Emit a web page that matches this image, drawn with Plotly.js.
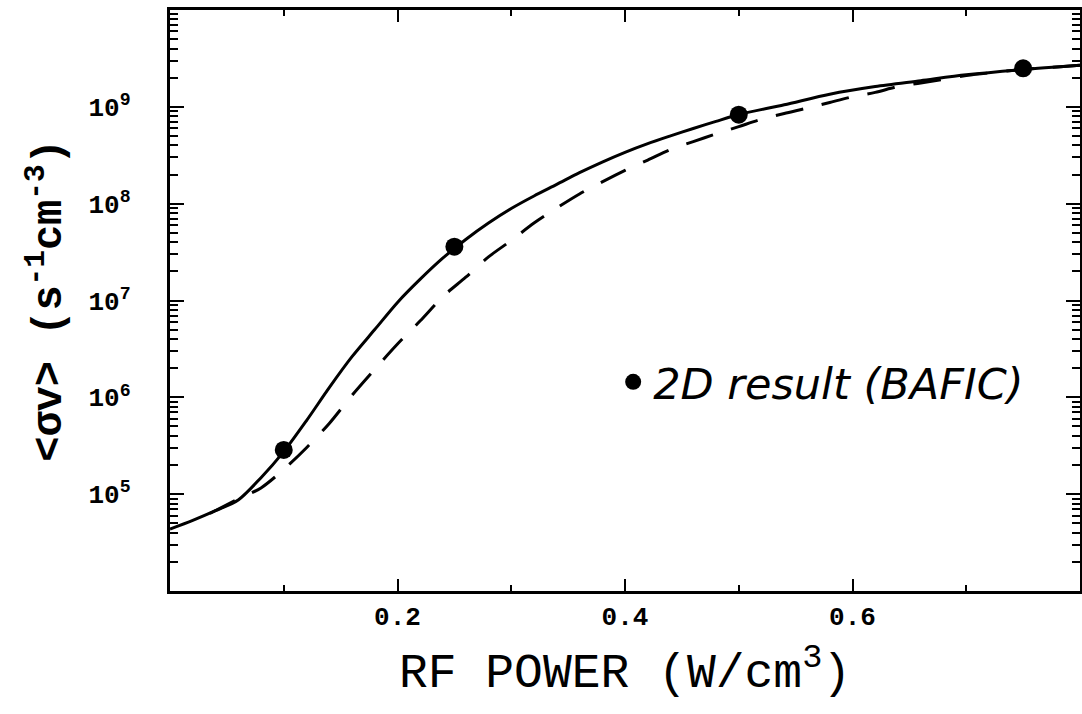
<!DOCTYPE html>
<html>
<head>
<meta charset="utf-8">
<script src="https://cdn.plot.ly/plotly-3.0.1.min.js"></script>
<style>html,body{margin:0;padding:0;background:#fff;}#chart{width:1082px;height:714px;}</style>
</head>
<body>
<div id="chart"></div>
<script>
// RF power (W/cm^3)
var solidX = [0, 0.02, 0.04, 0.06, 0.08, 0.10, 0.12, 0.14, 0.16, 0.18, 0.20, 0.22, 0.24, 0.26, 0.28, 0.30, 0.32, 0.34, 0.36, 0.38, 0.40, 0.42, 0.44, 0.46, 0.48, 0.50, 0.54, 0.58, 0.62, 0.66, 0.70, 0.75, 0.80];
var solidY = [4.37e4, 5.37e4, 6.76e4, 8.71e4, 1.48e5, 2.75e5, 5.75e5, 1.26e6, 2.63e6, 5.01e6, 9.55e6, 1.66e7, 2.75e7, 4.27e7, 6.31e7, 8.91e7, 1.20e8, 1.58e8, 2.09e8, 2.69e8, 3.39e8, 4.17e8, 5.01e8, 5.98e8, 7.08e8, 8.32e8, 1.05e9, 1.35e9, 1.62e9, 1.86e9, 2.14e9, 2.43e9, 2.69e9];

var dashX = [0.035, 0.06, 0.08, 0.10, 0.12, 0.14, 0.16, 0.18, 0.20, 0.22, 0.24, 0.26, 0.28, 0.30, 0.32, 0.34, 0.36, 0.38, 0.40, 0.42, 0.44, 0.46, 0.48, 0.50, 0.52, 0.54, 0.56, 0.58, 0.60, 0.62, 0.64, 0.66, 0.70, 0.75, 0.80];
var dashY = [6.31e4, 8.91e4, 1.16e5, 1.80e5, 3.02e5, 5.37e5, 1.05e6, 1.95e6, 3.55e6, 6.17e6, 1.10e7, 1.74e7, 2.82e7, 4.17e7, 6.31e7, 9.02e7, 1.26e8, 1.68e8, 2.21e8, 2.82e8, 3.63e8, 4.37e8, 5.25e8, 6.25e8, 7.45e8, 8.55e8, 9.68e8, 1.11e9, 1.27e9, 1.41e9, 1.62e9, 1.76e9, 2.10e9, 2.43e9, 2.69e9];

// 2D result (BAFIC)
var bafX = [0.10, 0.25, 0.50, 0.75];
var bafY = [2.86e5, 3.6e7, 8.3e8, 2.5e9];

var xTickVals = [0.2, 0.4, 0.6];
var xTickText = ["0.2", "0.4", "0.6"];
var yTickVals = [1e5, 1e6, 1e7, 1e8, 1e9];
var yTickText = ["10<sup>5</sup>", "10<sup>6</sup>", "10<sup>7</sup>", "10<sup>8</sup>", "10<sup>9</sup>"];

var PAD = '\u00a0\u00a0';
var traces = [
  {x: solidX, y: solidY, mode: 'lines', line: {color: 'black', width: 3, shape: 'spline', smoothing: 0.8}, showlegend: false, hoverinfo: 'skip'},
  {x: dashX, y: dashY, mode: 'lines', line: {color: 'black', width: 3, dash: '28px,19px', shape: 'spline', smoothing: 0.8}, showlegend: false, hoverinfo: 'skip'},
  {x: bafX, y: bafY, mode: 'markers', name: '2D result (BAFIC)', marker: {color: 'black', size: 18}, showlegend: true}
];

var MONO = "'Liberation Mono', 'DejaVu Sans Mono', monospace";
var tickFont = {family: MONO, size: 26, color: 'black', weight: 'bold'};

var layout = {
  width: 1082, height: 714,
  margin: {l: 170, r: 2, t: 10, b: 123},
  paper_bgcolor: 'white', plot_bgcolor: 'white',
  showlegend: true,
  legend: {x: 0.487, y: 0.36, xanchor: 'left', yanchor: 'middle', bgcolor: 'rgba(0,0,0,0)',
           font: {family: "'DejaVu Sans', sans-serif", size: 43, style: 'italic', color: 'black'},
           itemsizing: 'trace'},
  xaxis: {
    range: [0, 0.8], showgrid: false, zeroline: false,
    showline: true, linecolor: 'black', linewidth: 3, mirror: 'ticks',
    ticks: 'inside', ticklen: 12, tickwidth: 2, tickcolor: 'black',
    tickmode: 'array', tickvals: xTickVals, ticktext: xTickText,
    tickfont: tickFont,
    minor: {ticks: 'inside', ticklen: 6, tickwidth: 2, tickcolor: 'black', tick0: 0, dtick: 0.1, showgrid: false},
    title: {text: 'RF POWER (W/cm<sup>3</sup>)', font: {family: MONO, size: 48, color: 'black'}, standoff: 22}
  },
  yaxis: {
    type: 'log', range: [4, 10], showgrid: false, zeroline: false,
    showline: true, linecolor: 'black', linewidth: 3, mirror: 'ticks',
    ticks: 'inside', ticklen: 14, tickwidth: 2, tickcolor: 'black',
    tickmode: 'array', tickvals: yTickVals, ticktext: yTickText.map(function(t){return t + PAD;}),
    tickfont: tickFont,
    minor: {ticks: 'inside', ticklen: 8, tickwidth: 2, tickcolor: 'black', dtick: 'D1', showgrid: false},
    title: {text: '&lt;σv&gt; (s<sup>-1</sup>cm<sup>-3</sup>)', font: {family: MONO, size: 42, color: 'black', weight: 'bold'}, standoff: 14}
  }
};

Plotly.newPlot('chart', traces, layout, {displayModeBar: false});
</script>
</body>
</html>
